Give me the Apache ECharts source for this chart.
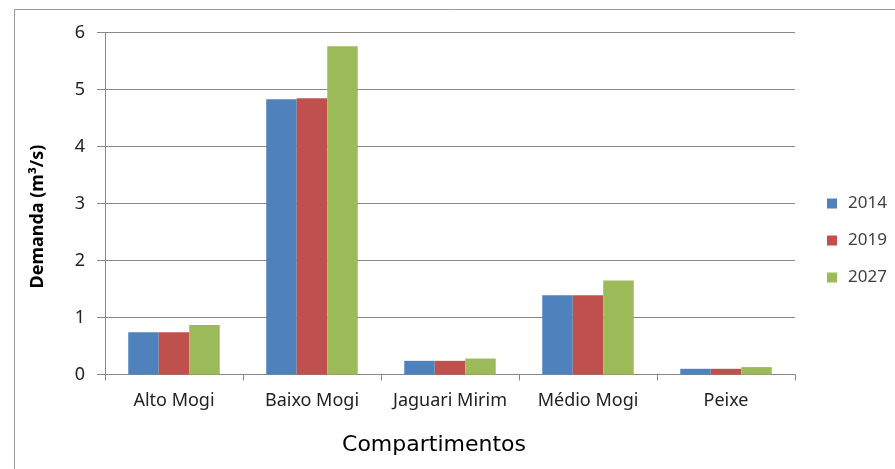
<!DOCTYPE html>
<html><head><meta charset="utf-8">
<script src="https://cdn.jsdelivr.net/npm/echarts@6/dist/echarts.min.js"></script>
<style>html,body{margin:0;padding:0;background:#fff}#c{width:895px;height:469px}</style>
</head><body><div id="c"></div>
<script>
const categories = ['Alto Mogi', 'Baixo Mogi', 'Jaguari Mirim', 'Médio Mogi', 'Peixe'];
const s2014 = [0.74, 4.83, 0.24, 1.39, 0.10];
const s2019 = [0.74, 4.85, 0.24, 1.39, 0.10];
const s2027 = [0.87, 5.76, 0.28, 1.65, 0.13];
const seriesNames = ['2014', '2019', '2027'];
const colors = ['#4F81BD', '#C0504D', '#9BBB59'];
const FONT = 'Noto Sans';
const chart = echarts.init(document.getElementById('c'));
chart.setOption({
  animation: false,
  textStyle: { fontFamily: FONT },
  graphic: [{ type: 'rect', shape: { x: 14.5, y: 9.5, width: 900, height: 480 }, style: { fill: 'none', stroke: '#9a9a9a', lineWidth: 1 }, silent: true }],
  grid: { left: 105, right: 100, top: 32.7, bottom: 94.5 },
  legend: {
    orient: 'vertical', left: 822, top: 190, itemWidth: 10, itemHeight: 10, itemGap: 20,
    icon: 'rect', textStyle: { fontSize: 17, color: '#404040', fontFamily: FONT, padding: [0, 0, 0, 6] },
    data: seriesNames
  },
  xAxis: {
    type: 'category', data: categories,
    name: 'Compartimentos', nameLocation: 'middle', nameGap: 60,
    nameTextStyle: { fontSize: 22, color: '#000', fontFamily: 'DejaVu Sans', padding: [0, 32, 0, 0] },
    axisLine: { lineStyle: { color: '#888888' } },
    axisTick: { show: true, length: 6, lineStyle: { color: '#888888' } },
    axisLabel: { fontSize: 18, color: '#222', margin: 17, interval: 0 }
  },
  yAxis: {
    type: 'value', min: 0, max: 6, interval: 1,
    name: 'Demanda (m³/s)', nameLocation: 'middle', nameGap: 58, nameRotate: 90,
    nameTextStyle: { fontSize: 18, fontWeight: 'bold', color: '#000', fontFamily: FONT, padding: [0, 26, 0, 0] },
    axisLine: { show: true, lineStyle: { color: '#888888' } },
    axisTick: { show: true, length: 8, lineStyle: { color: '#888888' } },
    axisLabel: { fontSize: 18, color: '#222', margin: 20 },
    splitLine: { lineStyle: { color: '#888888' } }
  },
  series: [s2014, s2019, s2027].map((d, i) => ({
    name: seriesNames[i], type: 'bar', data: d, barGap: '0%', barCategoryGap: '33.7%',
    itemStyle: { color: colors[i] }
  }))
});
</script></body></html>
